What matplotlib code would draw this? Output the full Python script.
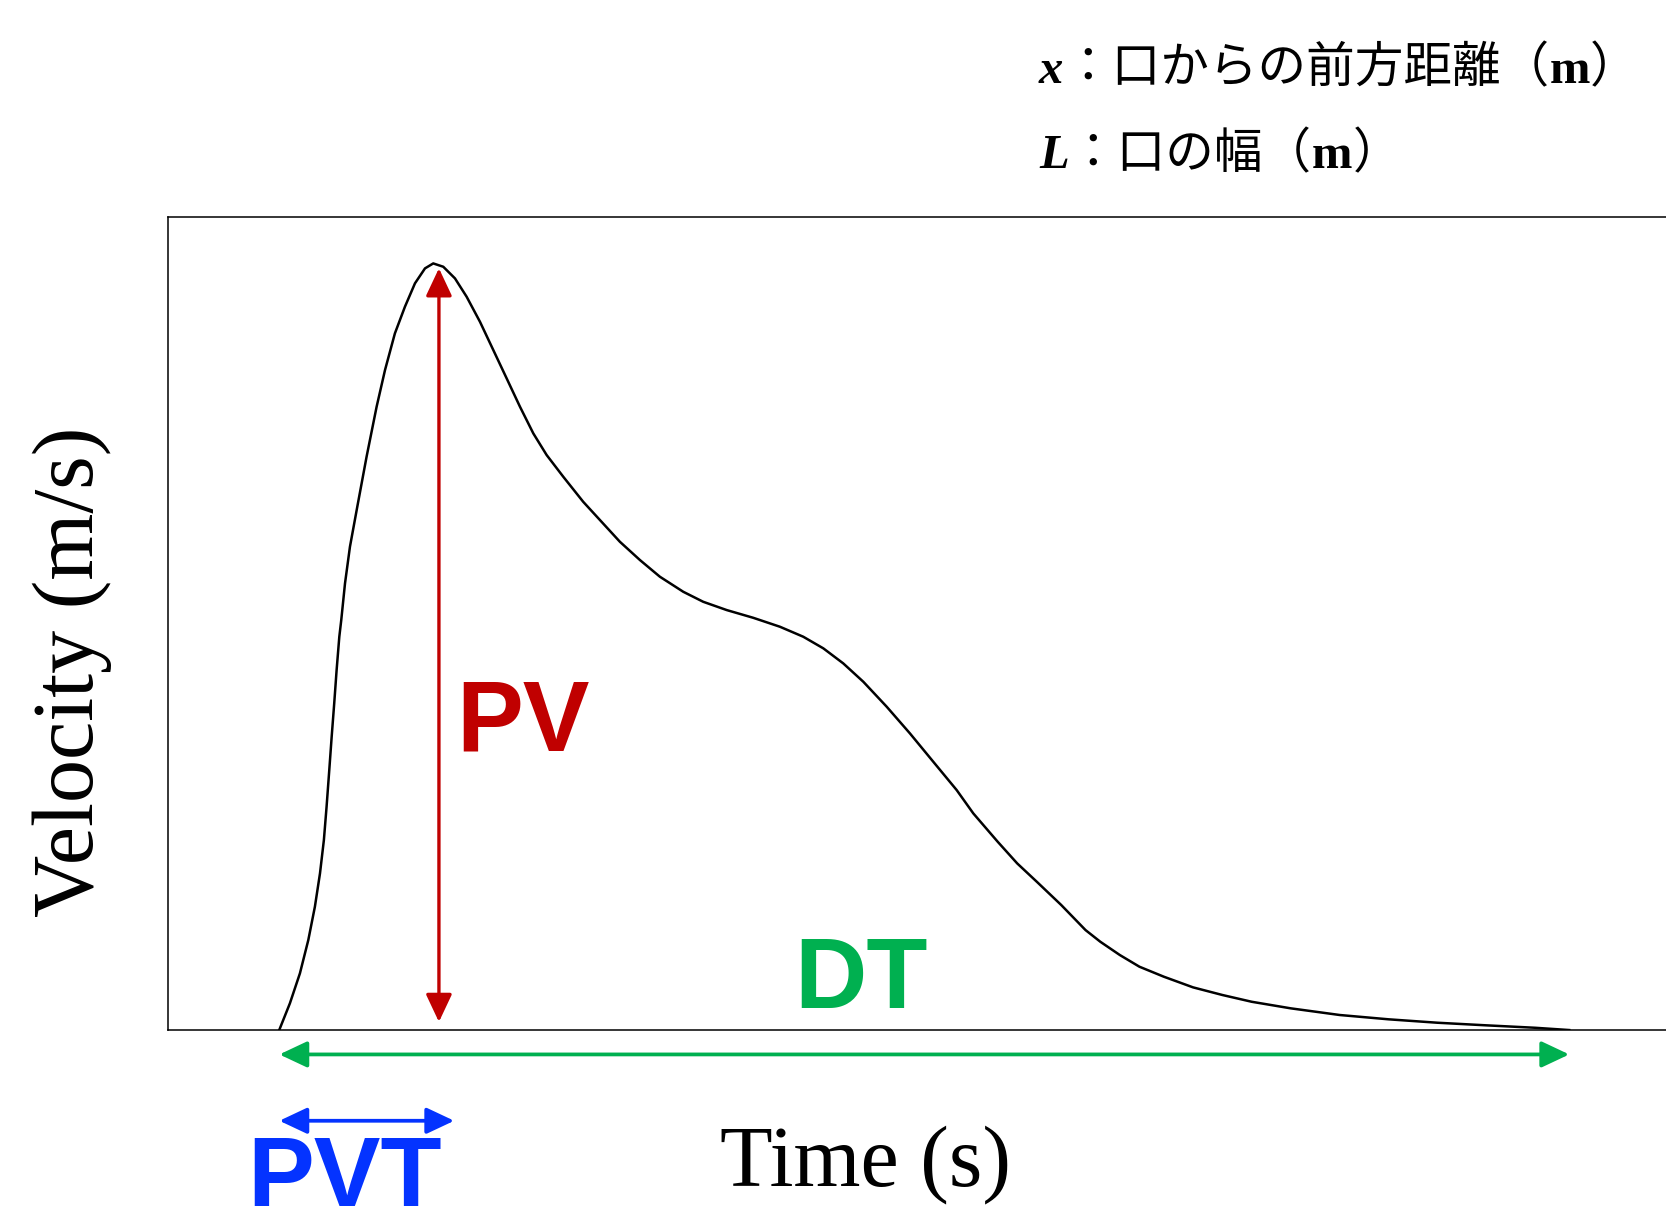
import matplotlib.pyplot as plt
from matplotlib.offsetbox import TextArea, HPacker, AnnotationBbox

# 速度曲線（図から読み取った値、任意単位）
time_pts = [0.743, 0.814, 0.881, 0.937, 0.981, 1.015, 1.041, 1.059, 1.077, 1.093,
            1.110, 1.126, 1.144, 1.157, 1.182, 1.215, 1.264, 1.326, 1.393, 1.449,
            1.515, 1.582, 1.649, 1.716, 1.771, 1.838, 1.916, 1.994, 2.083, 2.172,
            2.261, 2.350, 2.439, 2.528, 2.639, 2.772, 2.884, 3.017, 3.151, 3.284,
            3.440, 3.573, 3.730, 3.907, 4.085, 4.241, 4.375, 4.508, 4.642, 4.798,
            4.953, 5.109, 5.265, 5.376, 5.539, 5.669, 5.800, 5.963, 6.125, 6.224,
            6.354, 6.485, 6.648, 6.843, 7.039, 7.234, 7.495, 7.822, 8.148, 8.474,
            8.800, 9.126, 9.354]
vel_pts = [0.0, 0.328, 0.697, 1.107, 1.517, 1.927, 2.337, 2.747, 3.198, 3.608,
           4.018, 4.428, 4.838, 5.043, 5.494, 5.945, 6.437, 7.052, 7.667, 8.118,
           8.569, 8.897, 9.185, 9.369, 9.430, 9.389, 9.246, 9.020, 8.712, 8.364,
           8.016, 7.667, 7.339, 7.073, 6.806, 6.498, 6.273, 6.006, 5.781, 5.576,
           5.391, 5.268, 5.166, 5.071, 4.961, 4.838, 4.695, 4.510, 4.284, 3.977,
           3.649, 3.300, 2.952, 2.665, 2.316, 2.050, 1.824, 1.538, 1.230, 1.086,
           0.923, 0.779, 0.656, 0.525, 0.431, 0.348, 0.267, 0.185, 0.132, 0.090,
           0.058, 0.028, 0.0]

# 指標の範囲
pv_time = 1.809
pv_range = [0.10, 9.37]
dt_range = [0.744, 9.354]
dt_level = -0.30
pvt_range = [0.744, 1.911]
pvt_level = -1.116

# 右上の注記
note_symbols = ['x', 'L']
note_bodies = ['口からの前方距離', '口の幅']
note_unit = 'm'

RED = '#C00000'
GREEN = '#00B050'
BLUE = '#0433FF'

fig = plt.figure(figsize=(16.66, 12.06), dpi=100)
ax = fig.add_axes([0.1008, 0.1459, 0.8992, 0.6741])
ax.set_xlim(0, 10)
ax.set_ylim(0, 10)
ax.set_xticks([])
ax.set_yticks([])
ax.spines['right'].set_visible(False)
for s in ['left', 'top', 'bottom']:
    ax.spines[s].set_linewidth(1.1)

ax.plot(time_pts, vel_pts, color='black', lw=1.8, solid_joinstyle='round')


def arrow(p0, p1, color, lw):
    ax.annotate('', xy=p1, xytext=p0,
                arrowprops=dict(arrowstyle='<|-|>,head_length=0.85,head_width=0.4',
                                color=color, lw=lw, shrinkA=0, shrinkB=0,
                                mutation_scale=20),
                annotation_clip=False)


arrow((pv_time, pv_range[0]), (pv_time, pv_range[1]), RED, 2.4)
arrow((dt_range[0], dt_level), (dt_range[1], dt_level), GREEN, 2.7)
arrow((pvt_range[0], pvt_level), (pvt_range[1], pvt_level), BLUE, 2.7)

big = dict(family='Liberation Sans', fontweight='bold', fontsize=72,
           ha='left', va='baseline')
ax.text(1.923, 3.444, 'PV', color=RED, **big)
ax.text(4.18, 0.271, 'DT', color=GREEN, **big)
ax.text(0.527, -2.165, 'PVT', color=BLUE, clip_on=False, **big)

fig.text(0.5195, 0.0174, 'Time (s)', family='Liberation Serif', fontsize=62,
         ha='center', va='baseline')
fig.text(0.0432, 0.4428, 'Velocity (m/s)', family='Liberation Serif', fontsize=62,
         rotation=90, ha='center', va='center')

# 注記（記号・本文・単位でフォントを分ける）
for sym, body, y in zip(note_symbols, note_bodies, [0.9428, 0.872]):
    parts = [
        TextArea(sym, textprops=dict(family='Liberation Serif', fontsize=35,
                                     fontweight='bold', fontstyle='italic')),
        TextArea('：' + body + '（', textprops=dict(family='Noto Sans CJK JP', fontsize=35)),
        TextArea(note_unit, textprops=dict(family='Liberation Serif', fontsize=35,
                                           fontweight='bold')),
        TextArea('）', textprops=dict(family='Noto Sans CJK JP', fontsize=35)),
    ]
    box = HPacker(children=parts, align='baseline', pad=0, sep=0)
    ab = AnnotationBbox(box, (1039 / 1666, y), xycoords='figure fraction',
                        box_alignment=(0, 0.5), frameon=False, pad=0)
    fig.add_artist(ab)

fig.savefig('out.png', dpi=100)
